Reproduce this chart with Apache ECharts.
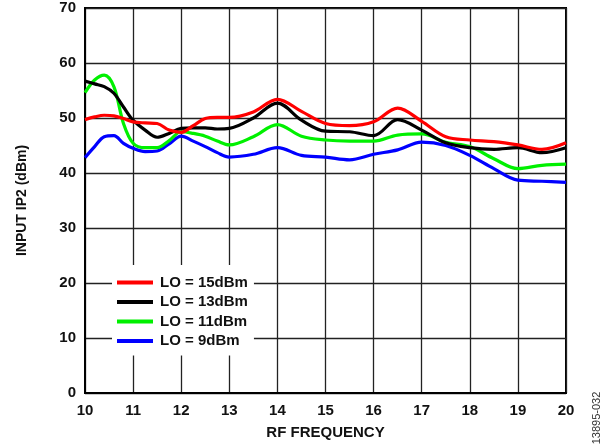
<!DOCTYPE html>
<html>
<head>
<meta charset="utf-8">
<script src="https://cdn.jsdelivr.net/npm/echarts@6/dist/echarts.min.js"></script>
<style>
html,body{margin:0;padding:0;background:#fff;}
#c{width:613px;height:446px;}
</style>
</head>
<body>
<div id="c"></div>
<script>
var freq = [10, 10.2, 10.4, 10.6, 10.8, 11, 11.25, 11.5, 11.75, 12, 12.25, 12.5, 12.75, 13, 13.5, 14, 14.5, 15, 15.5, 16, 16.5, 17, 17.5, 18, 18.5, 19, 19.5, 20];
var lo15 = [49.7, 50.2, 50.5, 50.4, 49.9, 49.3, 49.1, 49.0, 47.8, 47.4, 48.6, 49.9, 50.1, 50.1, 51.1, 53.4, 51.2, 49.0, 48.6, 49.3, 51.8, 49.4, 46.6, 46.0, 45.7, 45.1, 44.3, 45.5];
var lo13 = [56.7, 56.2, 55.7, 54.5, 52.0, 49.6, 47.8, 46.5, 47.2, 48.1, 48.2, 48.2, 48.0, 48.1, 50.0, 52.7, 49.6, 47.6, 47.5, 46.8, 49.7, 47.8, 45.5, 44.6, 44.3, 44.6, 43.7, 44.6];
var lo11 = [54.6, 56.9, 57.8, 55.7, 49.0, 45.4, 44.6, 44.6, 45.9, 47.5, 47.2, 46.7, 45.8, 45.1, 46.6, 48.8, 46.7, 46.0, 45.8, 45.8, 46.9, 47.1, 45.6, 44.8, 42.6, 40.8, 41.4, 41.6];
var lo9  = [42.8, 44.8, 46.6, 46.8, 45.4, 44.5, 43.9, 44.0, 45.3, 46.7, 45.8, 44.8, 43.7, 42.9, 43.4, 44.6, 43.2, 42.9, 42.4, 43.4, 44.2, 45.6, 45.0, 43.2, 40.8, 38.7, 38.5, 38.3];
var seriesNames = ['LO = 15dBm', 'LO = 13dBm', 'LO = 11dBm', 'LO = 9dBm'];
var seriesColors = ['#ff0000', '#000000', '#00f000', '#0000ff'];
var xTicks = [10, 11, 12, 13, 14, 15, 16, 17, 18, 19, 20];
var yTicks = [0, 10, 20, 30, 40, 50, 60, 70];

function pairs(ys) { return freq.map(function (f, i) { return [f, ys[i]]; }); }
var allData = [lo15, lo13, lo11, lo9];

var chart = echarts.init(document.getElementById('c'), null, {renderer: 'canvas'});
var font = '"Liberation Sans", Arial, sans-serif';
chart.setOption({
  animation: false,
  backgroundColor: '#fff',
  grid: {left: 85, right: 47, top: 8, bottom: 53, show: true, borderColor: '#000', borderWidth: 2, backgroundColor: 'transparent'},
  legend: {
    orient: 'vertical', left: 112, top: 265,
    backgroundColor: '#fff', padding: [10, 6, 7, 5],
    itemWidth: 36, itemHeight: 4, itemGap: 4.5,
    icon: 'rect',
    data: seriesNames,
    textStyle: {fontFamily: font, fontWeight: 'bold', fontSize: 15, color: '#111', padding: [0, 0, 0, 2]}
  },
  xAxis: {
    type: 'value', min: xTicks[0], max: xTicks[xTicks.length - 1], interval: 1,
    name: 'RF FREQUENCY', nameLocation: 'middle', nameGap: 32,
    nameTextStyle: {fontFamily: font, fontWeight: 'bold', fontSize: 15, color: '#111'},
    axisLine: {show: true, lineStyle: {color: '#000', width: 2}},
    axisTick: {show: false},
    axisLabel: {fontFamily: font, fontWeight: 'bold', fontSize: 15, color: '#111', margin: 10},
    splitLine: {show: true, lineStyle: {color: '#222', width: 1.3}}
  },
  yAxis: {
    type: 'value', min: yTicks[0], max: yTicks[yTicks.length - 1], interval: 10,
    name: 'INPUT IP2 (dBm)', nameLocation: 'middle', nameGap: 56,
    nameTextStyle: {fontFamily: font, fontWeight: 'bold', fontSize: 14, color: '#111'},
    axisLine: {show: true, lineStyle: {color: '#000', width: 2}},
    axisTick: {show: false},
    axisLabel: {fontFamily: font, fontWeight: 'bold', fontSize: 15, color: '#111', margin: 9},
    splitLine: {show: true, lineStyle: {color: '#222', width: 1.3}}
  },
  graphic: [{
    type: 'text', x: 597, y: 418, rotation: Math.PI / 2,
    style: {text: '13895-032', font: '11px "Liberation Sans", Arial, sans-serif', fill: '#333', align: 'center', verticalAlign: 'middle'}
  }],
  series: seriesNames.map(function (n, i) {
    return {
      name: n, type: 'line', data: pairs(allData[i]),
      smooth: 0.35, showSymbol: false, symbol: 'none',
      color: seriesColors[i],
      lineStyle: {color: seriesColors[i], width: 3.2},
      z: 10 - i
    };
  })
});
</script>
</body>
</html>
